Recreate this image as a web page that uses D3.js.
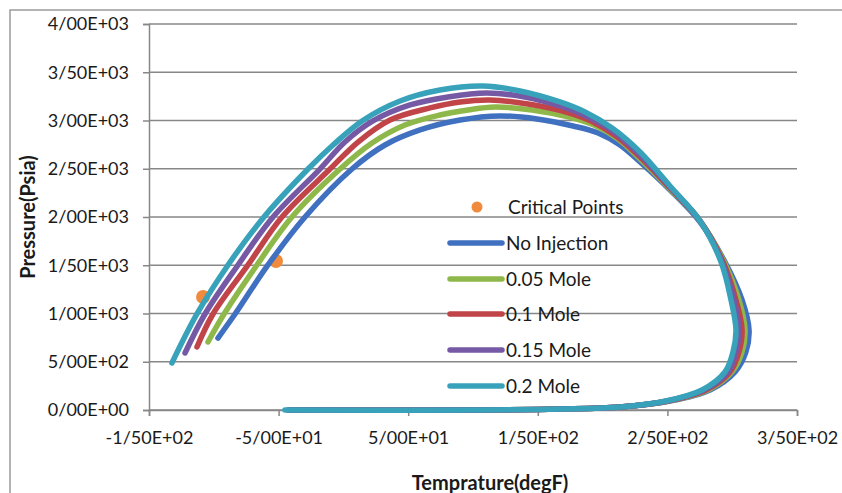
<!DOCTYPE html>
<html>
<head>
<meta charset="utf-8">
<script src="https://cdn.jsdelivr.net/npm/d3@7"></script>
<style>
  body { margin: 0; background: #fff; }
  svg { display: block; font-family: Lato, "Open Sans", sans-serif; }
</style>
</head>
<body>
<div id="chart"></div>
<script>
// phase envelope chart - pressure vs temperature

// series names + colours (excel-ish palette)
let seriesNames = ["No Injection", "0.05 Mole", "0.1 Mole", "0.15 Mole", "0.2 Mole"];
let seriesColors = ["#4070C0", "#8FB84A", "#C04448", "#7659A4", "#38A2BA"];

// each point is [temperature degF, pressure psia]
let noInjection = [
  [-96.8, 746], [-83.6, 995], [-58.2, 1503], [-29.6, 2000], [6.6, 2497], [32.1, 2746],
  [59.1, 2902], [90.0, 3005], [120.8, 3047], [149.4, 3016], [177.2, 2943], [196.5, 2871],
  [213.4, 2746], [228.9, 2570], [252.0, 2280], [275.2, 1948], [294.4, 1534], [307.6, 1140],
  [313.0, 829], [310.6, 601], [302.2, 394], [282.9, 207], [252.0, 93], [213.4, 31],
  [167.1, 10], [105.4, 0], [-41.2, 0]
];
let mole005 = [
  [-104.5, 705], [-92.1, 995], [-66.7, 1503], [-39.7, 2000], [-2.6, 2497], [22.1, 2767],
  [47.5, 2953], [74.5, 3057], [96.1, 3109], [117.0, 3140], [145.5, 3109], [174.1, 3036],
  [193.4, 2953], [211.9, 2808], [228.9, 2601], [252.0, 2290], [275.2, 1959], [293.7, 1534],
  [305.2, 1140], [309.9, 829], [307.6, 601], [299.8, 394], [281.3, 207], [251.2, 93],
  [213.4, 31], [167.1, 10], [105.4, 0], [-41.2, 0]
];
let mole01 = [
  [-113.0, 653], [-100.6, 995], [-73.6, 1503], [-47.4, 2000], [-10.3, 2497], [11.3, 2777],
  [36.0, 3005], [66.8, 3130], [90.0, 3192], [113.1, 3213], [142.4, 3171], [171.8, 3088],
  [191.0, 2995], [210.3, 2839], [228.9, 2622], [252.0, 2301], [275.2, 1959], [292.9, 1534],
  [302.9, 1140], [307.6, 829], [305.2, 601], [298.3, 394], [279.8, 207], [250.5, 93],
  [213.4, 31], [167.1, 10], [105.4, 0], [-42.0, 0]
];
let mole015 = [
  [-122.2, 591], [-106.8, 995], [-81.3, 1503], [-54.3, 2000], [-18.1, 2497], [1.2, 2777],
  [22.8, 2995], [51.4, 3161], [80.7, 3244], [110.8, 3285], [140.1, 3244], [169.4, 3140],
  [188.7, 3036], [208.8, 2881], [228.9, 2643], [252.0, 2311], [275.2, 1959], [292.1, 1534],
  [301.4, 1140], [305.2, 829], [302.9, 601], [296.8, 394], [278.2, 207], [249.7, 93],
  [213.4, 31], [167.1, 10], [105.4, 0], [-42.7, 0]
];
let mole02 = [
  [-132.3, 487], [-113.0, 995], [-89.0, 1503], [-61.3, 2000], [-27.3, 2497], [-8.0, 2746],
  [14.4, 2995], [43.7, 3202], [74.5, 3316], [107.7, 3358], [136.3, 3306], [167.1, 3192],
  [186.4, 3088], [207.3, 2922], [228.9, 2674], [252.0, 2321], [275.2, 1959], [291.4, 1534],
  [299.1, 1140], [302.9, 829], [300.6, 601], [294.4, 394], [276.7, 207], [248.9, 93],
  [213.4, 31], [167.1, 10], [105.4, 0], [-45.1, 0]
];
let criticalPoints = [[-108.3, 1171], [-52.0, 1544]];

// ticks
let xTicks = [-150, -50, 50, 150, 250, 350];
let xTickLabels = ["-1/50E+02", "-5/00E+01", "5/00E+01", "1/50E+02", "2/50E+02", "3/50E+02"];
let yTicks = [0, 500, 1000, 1500, 2000, 2500, 3000, 3500, 4000];
let yTickLabels = ["0/00E+00", "5/00E+02", "1/00E+03", "1/50E+03", "2/00E+03",
                   "2/50E+03", "3/00E+03", "3/50E+03", "4/00E+03"];

let allSeries = [noInjection, mole005, mole01, mole015, mole02];

// size
let W = 842, H = 493;
let margin = {top: 24, right: 45, bottom: 83, left: 149};
let w = W - margin.left - margin.right;
let h = H - margin.top - margin.bottom;

let svg = d3.select("#chart").append("svg")
  .attr("width", W)
  .attr("height", H);

// outer chart border
svg.append("rect")
  .attr("x", 10).attr("y", 10)
  .attr("width", 840).attr("height", 490)
  .attr("fill", "none")
  .attr("stroke", "#9a9a9a")
  .attr("stroke-width", 1.5);

let g = svg.append("g")
  .attr("transform", "translate(" + margin.left + "," + margin.top + ")");

let x = d3.scaleLinear().domain([-150, 350]).range([0, w]);
let y = d3.scaleLinear().domain([0, 4000]).range([h, 0]);

// horizontal gridlines
g.selectAll("line.grid")
  .data(yTicks)
  .enter().append("line")
  .attr("x1", 0).attr("x2", w)
  .attr("y1", d => y(d)).attr("y2", d => y(d))
  .attr("stroke", "#878787")
  .attr("stroke-width", 1.5);

// axes
let yAxis = d3.axisLeft(y)
  .tickValues(yTicks)
  .tickFormat((d, i) => yTickLabels[i])
  .tickSize(6)
  .tickPadding(14);
let xAxis = d3.axisBottom(x)
  .tickValues(xTicks)
  .tickFormat((d, i) => xTickLabels[i])
  .tickSize(6)
  .tickPadding(15);

let ya = g.append("g").call(yAxis);
let xa = g.append("g").attr("transform", "translate(0," + h + ")").call(xAxis);

[ya, xa].forEach(a => {
  a.select(".domain").attr("stroke", "#878787").attr("stroke-width", 1.5);
  a.selectAll(".tick line").attr("stroke", "#878787").attr("stroke-width", 1.5);
  a.selectAll("text")
    .attr("fill", "#1a1a1a")
    .style("font-size", "18px")
    .style("font-family", "Lato, 'Open Sans', sans-serif");
});

// axis titles
svg.append("text")
  .attr("transform", "translate(35," + (margin.top + 193) + ")rotate(-90)")
  .attr("text-anchor", "middle")
  .style("font-size", "20px")
  .style("font-weight", "bold")
  .attr("fill", "#1a1a1a")
  .text("Pressure(Psia)");

svg.append("text")
  .attr("x", 490)
  .attr("y", 490)
  .attr("text-anchor", "middle")
  .style("font-size", "20px")
  .style("font-weight", "bold")
  .attr("fill", "#1a1a1a")
  .text("Temprature(degF)");

// critical points go under the lines
g.selectAll("circle.crit")
  .data(criticalPoints)
  .enter().append("circle")
  .attr("cx", d => x(d[0]))
  .attr("cy", d => y(d[1]))
  .attr("r", 7)
  .attr("fill", "#F08A3C");

let line = d3.line()
  .x(d => x(d[0]))
  .y(d => y(d[1]))
  .curve(d3.curveCatmullRom.alpha(0.5));

g.selectAll("path.env")
  .data(allSeries)
  .enter().append("path")
  .attr("d", line)
  .attr("fill", "none")
  .attr("stroke", (d, i) => seriesColors[i])
  .attr("stroke-width", 5.5)
  .attr("stroke-linejoin", "round")
  .attr("stroke-linecap", "round");

// legend (no background, gridlines show through)
let legend = svg.append("g");
let legY = [207, 243, 279, 314, 350, 386];

legend.append("circle")
  .attr("cx", 477).attr("cy", legY[0])
  .attr("r", 5.5)
  .attr("fill", "#F08A3C");
legend.append("text")
  .attr("x", 508).attr("y", legY[0])
  .attr("dy", "0.35em")
  .style("font-size", "19px")
  .attr("fill", "#1a1a1a")
  .text("Critical Points");

seriesNames.forEach((name, i) => {
  let ly = legY[i + 1];
  legend.append("line")
    .attr("x1", 450).attr("x2", 502)
    .attr("y1", ly).attr("y2", ly)
    .attr("stroke", seriesColors[i])
    .attr("stroke-width", 5.5)
    .attr("stroke-linecap", "round");
  legend.append("text")
    .attr("x", 506).attr("y", ly)
    .attr("dy", "0.35em")
    .style("font-size", "19px")
    .attr("fill", "#1a1a1a")
    .text(name);
});
</script>
</body>
</html>
